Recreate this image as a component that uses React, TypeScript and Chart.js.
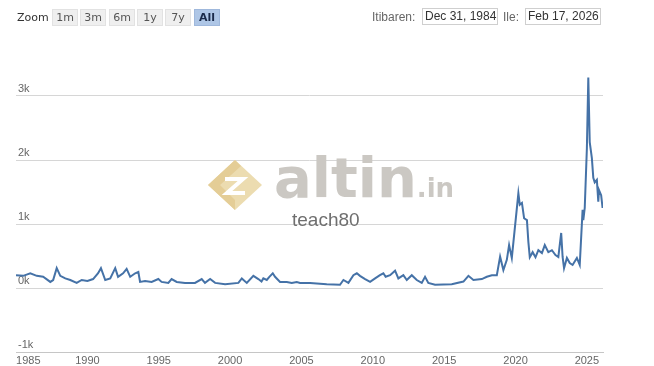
import React, { useEffect, useRef } from "react";
import { Chart, registerables } from "chart.js";

Chart.register(...registerables);

// ---- data (decimal years / values) ----
const years = [
  1984.997, 1985.5, 1986.0, 1986.45, 1986.9, 1987.4, 1987.6, 1987.85, 1988.1, 1988.45,
  1988.8, 1989.25, 1989.6, 1990.0, 1990.4, 1990.75, 1990.95, 1991.25, 1991.6, 1991.95,
  1992.15, 1992.5, 1992.75, 1993.0, 1993.35, 1993.57, 1993.69, 1994.04, 1994.5, 1994.97,
  1995.2, 1995.67, 1995.9, 1996.26, 1996.84, 1997.54, 1998.01, 1998.24, 1998.6, 1998.95,
  1999.65, 2000.58, 2000.82, 2001.17, 2001.63, 2001.98, 2002.2, 2002.33, 2002.57, 2002.75,
  2002.99, 2003.15, 2003.5, 2003.97, 2004.32, 2004.67, 2004.9, 2005.6, 2006.77, 2007.7,
  2007.94, 2008.29, 2008.64, 2008.88, 2009.1, 2009.46, 2009.81, 2010.16, 2010.5, 2010.74,
  2010.9, 2011.21, 2011.56, 2011.79, 2012.14, 2012.38, 2012.73, 2013.08, 2013.43, 2013.66,
  2013.89, 2014.36, 2015.53, 2016.35, 2016.7, 2017.05, 2017.64, 2017.99, 2018.34, 2018.69,
  2018.92, 2019.15, 2019.39, 2019.55, 2019.74, 2020.2, 2020.3, 2020.45, 2020.6, 2020.8,
  2020.9, 2021.0, 2021.2, 2021.4, 2021.6, 2021.85, 2022.05, 2022.3, 2022.55, 2022.8,
  2023.0, 2023.2, 2023.3, 2023.4, 2023.6, 2023.8, 2024.0, 2024.3, 2024.5, 2024.7,
  2024.75, 2024.85, 2025.0, 2025.1, 2025.2, 2025.35, 2025.45, 2025.55, 2025.7, 2025.8,
  2025.85, 2026.0, 2026.1,
];
const values = [
  200, 190, 230, 190, 175, 95, 125, 310, 190, 150,
  125, 80, 125, 110, 140, 230, 310, 125, 150, 310,
  175, 230, 300, 175, 230, 250, 95, 110, 95, 140,
  95, 80, 140, 95, 80, 80, 140, 80, 140, 80,
  60, 80, 150, 80, 190, 140, 100, 150, 125, 175,
  230, 175, 95, 95, 80, 95, 80, 80, 60, 50,
  125, 80, 200, 230, 190, 140, 95, 150, 200, 230,
  175, 200, 270, 150, 200, 125, 200, 125, 80, 175,
  80, 50, 60, 100, 190, 125, 140, 175, 200, 200,
  490, 280, 440, 670, 470, 1480, 1300, 1330, 1090, 1060,
  720, 480, 560, 480, 590, 545, 670, 560, 590, 515,
  485, 860, 485, 310, 470, 390, 360, 470, 360, 1220,
  1060, 1250, 2180, 3290, 2280, 2030, 1720, 1650, 1690, 1350,
  1530, 1450, 1250,
];
const xTickYears = [1985, 1990, 1995, 2000, 2005, 2010, 2015, 2020, 2025];
const yTickValues = [-1000, 0, 1000, 2000, 3000];
const rangeButtons = ["1m", "3m", "6m", "1y", "7y", "All"];
const selectedButton = "All";
const fromLabel = "Itibaren:";
const toLabel = "Ile:";
const fromDate = "Dec 31, 1984";
const toDate = "Feb 17, 2026";
const X_MIN = 1984.997;
const X_MAX = 2026.13;
const Y_MIN = -1000;
const Y_MAX = 4000;

const tickFont = { family: '"Liberation Sans", Arial, sans-serif', size: 11, lineHeight: 1 };

export default function App() {
  const canvasRef = useRef<HTMLCanvasElement | null>(null);

  useEffect(() => {
    if (!canvasRef.current) return;
    const chart = new Chart(canvasRef.current, {
      type: "line",
      data: {
        datasets: [
          {
            data: years.map((x, i) => ({ x, y: values[i] })),
            borderColor: "#4572A7",
            borderWidth: 2,
            pointRadius: 0,
            tension: 0,
            fill: false,
          },
        ],
      },
      options: {
        animation: false,
        responsive: false,
        maintainAspectRatio: false,
        layout: { padding: { left: 12, right: 51, top: 32, bottom: 0 } },
        plugins: { legend: { display: false }, tooltip: { enabled: false } },
        scales: {
          x: {
            type: "linear",
            min: X_MIN,
            max: X_MAX,
            grid: { display: false, drawTicks: false },
            border: { display: true, color: "#c6c6c6", width: 1 },
            afterBuildTicks: (s: any) => {
              s.ticks = [...xTickYears, X_MAX].map((v) => ({ value: v }));
            },
            ticks: {
              align: "inner",
              autoSkip: false,
              maxRotation: 0,
              minRotation: 0,
              padding: 3,
              color: "#666666",
              font: tickFont,
              callback: (v: any) => (xTickYears.includes(v) ? String(v) : ""),
            },
          },
          y: {
            type: "linear",
            min: Y_MIN,
            max: Y_MAX,
            afterBuildTicks: (s: any) => {
              s.ticks = [...yTickValues, Y_MAX].map((v) => ({ value: v }));
            },
            grid: {
              drawTicks: false,
              lineWidth: 1,
              color: (ctx: any) =>
                ctx.tick && ctx.tick.value === Y_MAX ? "rgba(0,0,0,0)" : "#d6d6d6",
            },
            border: { display: false },
            ticks: {
              mirror: true,
              padding: 2,
              labelOffset: -7,
              color: "#666666",
              font: tickFont,
              callback: (v: any) => (v === Y_MAX ? "" : v / 1000 + "k"),
            },
          },
        },
      },
    } as any);
    return () => chart.destroy();
  }, []);

  const btnStyle = (sel: boolean): React.CSSProperties => ({
    position: "absolute",
    top: 9,
    width: 26,
    height: 17,
    boxSizing: "border-box",
    background: sel ? "#aec6e6" : "#efefef",
    border: sel ? "1px solid #9fb8dc" : "1px solid #e2e2e2",
    color: sel ? "#1a2a4a" : "#555",
    fontWeight: sel ? 700 : 400,
    fontFamily: '"DejaVu Sans", Verdana, sans-serif',
    fontSize: 11,
    lineHeight: "15px",
    textAlign: "center",
  });

  const inputStyle: React.CSSProperties = {
    position: "absolute",
    top: 8,
    width: 76,
    height: 17,
    boxSizing: "border-box",
    border: "1px solid #cfcfcf",
    fontFamily: '"Liberation Sans", Arial, sans-serif',
    fontSize: 12,
    lineHeight: "15px",
    color: "#333",
    paddingLeft: 2,
    whiteSpace: "nowrap",
    background: "#fff",
  };

  const labelStyle: React.CSSProperties = {
    position: "absolute",
    top: 10,
    fontFamily: '"Liberation Sans", Arial, sans-serif',
    fontSize: 12,
    lineHeight: "14px",
    color: "#666",
    whiteSpace: "nowrap",
  };

  return (
    <div
      style={{
        position: "fixed",
        left: 0,
        top: 0,
        width: 654,
        height: 366,
        overflow: "hidden",
        background: "#ffffff",
      }}
    >
      <canvas
        ref={canvasRef}
        width={654}
        height={369}
        style={{ position: "absolute", left: 0, top: 0, width: 654, height: 369 }}
      />
      {/* range selector */}
      <div
        style={{
          position: "absolute",
          left: 17,
          top: 11,
          fontFamily: '"DejaVu Sans", Verdana, sans-serif',
          fontSize: 11,
          lineHeight: "14px",
          color: "#333",
        }}
      >
        Zoom
      </div>
      {rangeButtons.map((b, i) => (
        <div key={b} style={{ ...btnStyle(b === selectedButton), left: 52 + Math.round(i * 28.3) }}>
          {b}
        </div>
      ))}
      <div style={{ ...labelStyle, left: 372 }}>{fromLabel}</div>
      <div style={{ ...inputStyle, left: 422 }}>{fromDate}</div>
      <div style={{ ...labelStyle, left: 503 }}>{toLabel}</div>
      <div style={{ ...inputStyle, left: 525 }}>{toDate}</div>
      {/* watermark */}
      <svg
        width={60}
        height={56}
        viewBox="0 0 60 56"
        style={{ position: "absolute", left: 205, top: 157, pointerEvents: "none" }}
      >
        <polygon points="3,28 30,3 57,28 30,53" fill="#ecdcb0" />
        <polygon points="3,28 30,3 36,9 15,28 30,43 30,53" fill="#e4cd96" />
        <polyline
          points="20,22 38,22 22,36 40,36"
          fill="none"
          stroke="#ffffff"
          strokeWidth={4}
          strokeLinejoin="miter"
        />
      </svg>
      <div
        style={{
          position: "absolute",
          left: 274,
          top: 146,
          fontFamily: '"DejaVu Sans", Verdana, sans-serif',
          fontWeight: 700,
          fontSize: 56,
          lineHeight: "64px",
          color: "#cbc8c3",
          whiteSpace: "nowrap",
          pointerEvents: "none",
        }}
      >
        altin
        <span style={{ fontSize: 26 }}>.in</span>
      </div>
      <div
        style={{
          position: "absolute",
          left: 292,
          top: 209,
          fontFamily: '"Liberation Sans", Arial, sans-serif',
          fontSize: 19,
          lineHeight: "22px",
          color: "#6f6f6f",
          whiteSpace: "nowrap",
          pointerEvents: "none",
        }}
      >
        teach80
      </div>
    </div>
  );
}
